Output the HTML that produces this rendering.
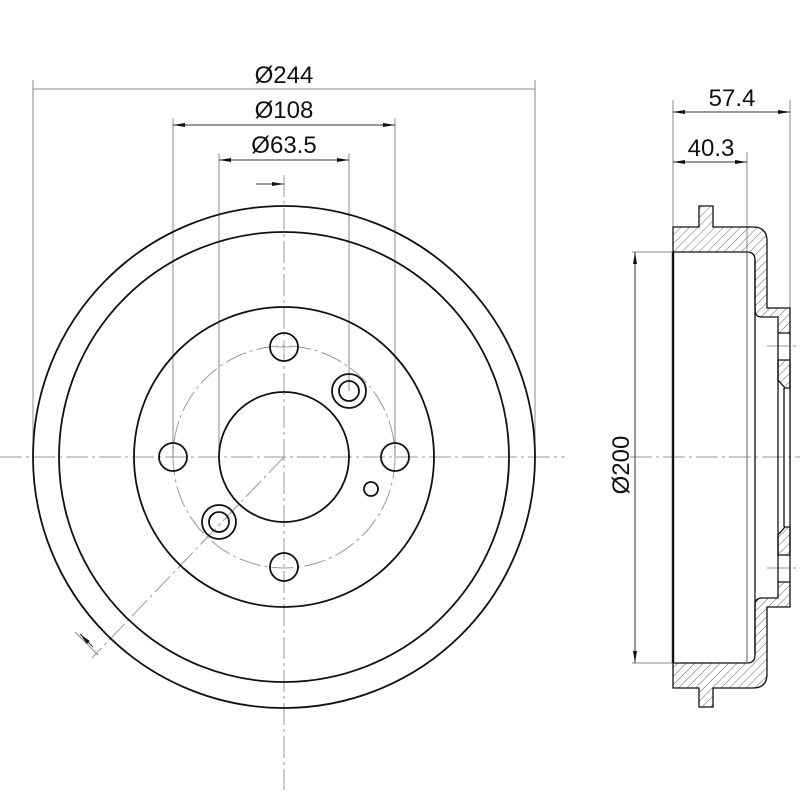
<!DOCTYPE html>
<html><head><meta charset="utf-8"><style>
html,body{margin:0;padding:0;background:#fff;}
svg{display:block;}
text{font-family:"Liberation Sans",sans-serif;font-size:24px;fill:#111;}
</style></head><body>
<svg width="800" height="800" viewBox="0 0 800 800" xmlns="http://www.w3.org/2000/svg">
<defs>
<pattern id="h" patternUnits="userSpaceOnUse" width="6" height="6" patternTransform="rotate(45)">
<line x1="0" y1="0" x2="0" y2="6" stroke="#666" stroke-width="1"/>
</pattern>
<marker id="a" markerWidth="12" markerHeight="6" refX="12" refY="3" orient="auto-start-reverse" markerUnits="userSpaceOnUse">
<path d="M0,1 L12,3 L0,5 z" fill="#111"/></marker>
</defs>
<g fill="none" stroke="#999" stroke-width="1" stroke-dasharray="22,4,3,4">
<line x1="0" y1="457" x2="565" y2="457"/>
<line x1="284" y1="175" x2="284" y2="790"/>
<circle cx="284" cy="457" r="111"/>
<line x1="284" y1="457" x2="92" y2="658"/>
<line x1="630" y1="457" x2="800" y2="457"/>
<line x1="767" y1="346" x2="800" y2="346"/>
<line x1="767" y1="568" x2="800" y2="568"/>
</g>
<g fill="none" stroke="#888" stroke-width="1">
<line x1="33" y1="80" x2="33" y2="457"/>
<line x1="535" y1="80" x2="535" y2="457"/>
<line x1="173" y1="118" x2="173" y2="457"/>
<line x1="395" y1="118" x2="395" y2="457"/>
<line x1="219" y1="153" x2="219" y2="457"/>
<line x1="349" y1="153" x2="349" y2="391"/>
<line x1="33" y1="89" x2="535" y2="89"/>
<line x1="673" y1="100" x2="673" y2="230"/>
<line x1="790" y1="100" x2="790" y2="310"/>
<line x1="747" y1="152" x2="747" y2="252"/>
<line x1="632" y1="252" x2="673" y2="252"/>
<line x1="632" y1="663" x2="673" y2="663"/>
<line x1="75" y1="632" x2="98" y2="655"/>
</g>
<g stroke="#333" stroke-width="1" fill="none">
<line x1="173" y1="125" x2="395" y2="125" marker-start="url(#a)" marker-end="url(#a)"/>
<line x1="219" y1="160" x2="349" y2="160" marker-start="url(#a)" marker-end="url(#a)"/>
<line x1="256" y1="184" x2="284" y2="184" marker-end="url(#a)"/>
<line x1="673" y1="112" x2="790" y2="112" marker-start="url(#a)" marker-end="url(#a)"/>
<line x1="673" y1="162" x2="747" y2="162" marker-start="url(#a)" marker-end="url(#a)"/>
<line x1="635" y1="252" x2="635" y2="663" marker-start="url(#a)" marker-end="url(#a)"/>
<line x1="93" y1="647" x2="80" y2="634" marker-end="url(#a)"/>
</g>
<g fill="none" stroke="#111" stroke-width="1.8">
<circle cx="284" cy="457" r="251"/>
<circle cx="284" cy="457" r="225"/>
<circle cx="284" cy="457" r="150"/>
<circle cx="284" cy="457" r="65"/>
<circle cx="284" cy="347" r="14"/>
<circle cx="284" cy="567" r="14"/>
<circle cx="173" cy="457" r="14"/>
<circle cx="395" cy="457" r="14"/>
<circle cx="349" cy="391" r="17"/><circle cx="349" cy="391" r="10"/>
<circle cx="219" cy="522" r="17"/><circle cx="219" cy="522" r="10"/>
<circle cx="371" cy="489" r="7"/>
</g>
<g fill="none" stroke="#aaa" stroke-width="1">
<line x1="284" y1="340" x2="284" y2="354"/><line x1="277" y1="347" x2="291" y2="347"/>
</g>
<g stroke="#111" stroke-width="1.3" fill="url(#h)">
<path d="M673,227 L699,227 L699,206 L713,206 L713,227 L753,227 Q767,227 767,241 L767,308 L790,308 L790,333 L778,333 L778,317 L762,317 Q755,317 755,310 L755,260 Q755,252 747,252 L673,252 Z"/>
<path d="M778,360 L790,360 L790,388 L785,388 L778,380 Z"/>
<path d="M673,688 L699,688 L699,707 L713,707 L713,688 L753,688 Q767,688 767,674 L767,607 L790,607 L790,582 L778,582 L778,598 L762,598 Q755,598 755,605 L755,655 Q755,663 747,663 L673,663 Z"/>
<path d="M778,555 L790,555 L790,527 L785,527 L778,535 Z"/>
</g>
<g stroke="#111" stroke-width="1.3" fill="none">
<line x1="673" y1="252" x2="673" y2="663" stroke-width="2.4"/>
<line x1="755" y1="260" x2="755" y2="655"/>
<line x1="778" y1="333" x2="778" y2="582"/>
<line x1="790" y1="333" x2="790" y2="582"/>
<line x1="784" y1="388" x2="784" y2="527"/>
</g>
<line x1="747" y1="252" x2="747" y2="663" stroke="#777" stroke-width="1.2"/>
<text x="284" y="83" text-anchor="middle">Ø244</text>
<text x="284" y="118" text-anchor="middle">Ø108</text>
<text x="284" y="153" text-anchor="middle">Ø63.5</text>
<text x="732" y="106" text-anchor="middle">57.4</text>
<text x="711" y="156" text-anchor="middle">40.3</text>
<text transform="translate(629,465) rotate(-90)" text-anchor="middle">Ø200</text>
</svg>
</body></html>
